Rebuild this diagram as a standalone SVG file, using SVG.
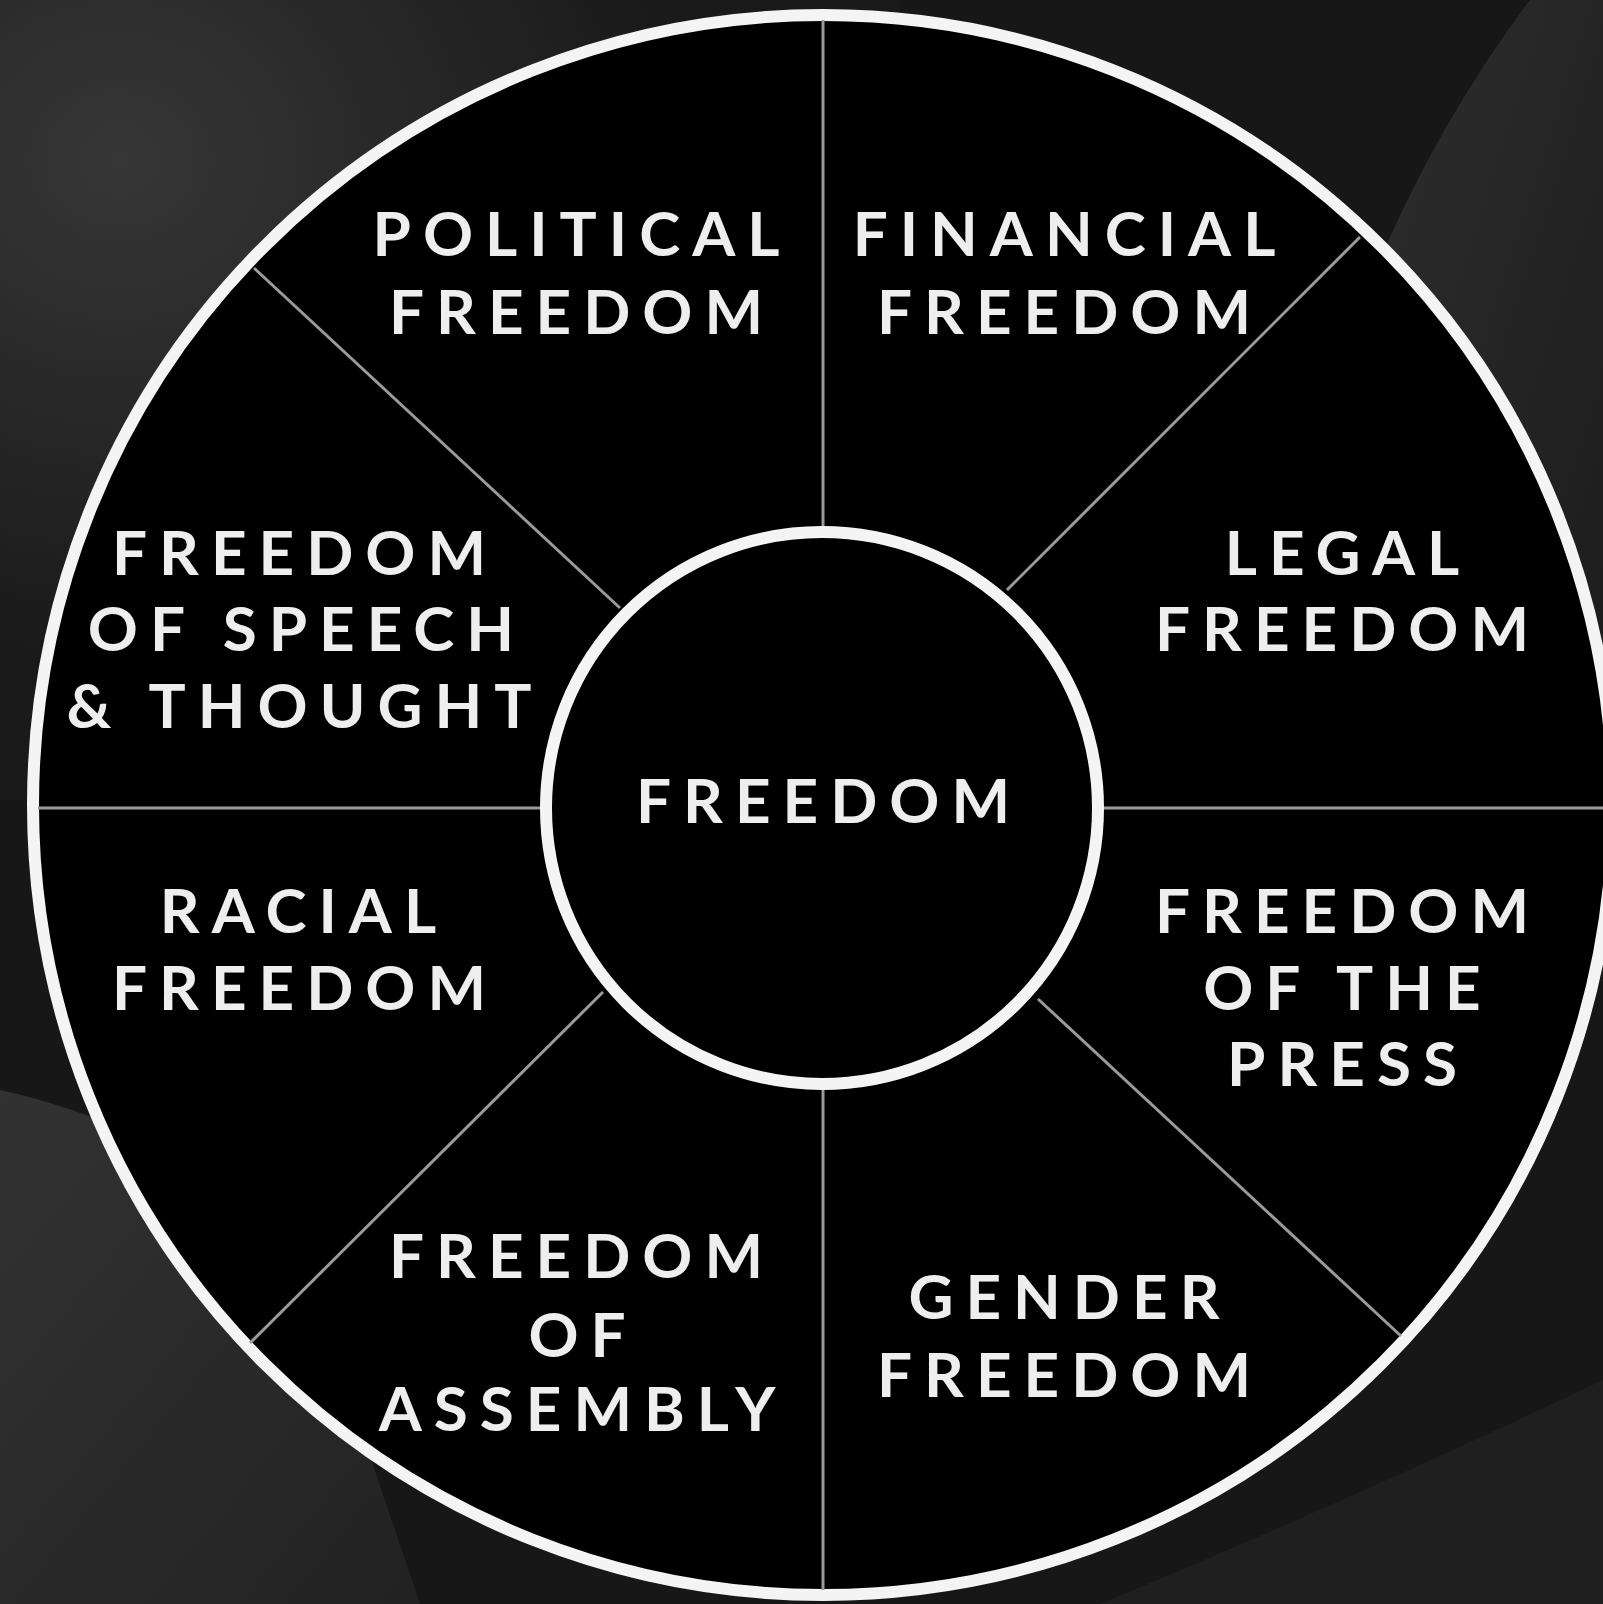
<svg xmlns="http://www.w3.org/2000/svg" width="1603" height="1604" viewBox="0 0 1603 1604">
  <defs>
    <style>
      .ring { fill: #000; stroke: #f4f4f4; stroke-width: 12; }
      .spoke { stroke: #9a9a9a; stroke-width: 3; fill: none; }
      .lbl { font-family: Lato, "Open Sans", "Liberation Sans", sans-serif; font-weight: 700; font-size: 62px; letter-spacing: 12px; fill: #eeeeee; text-anchor: middle; }
    </style>
    <radialGradient id="glowTL" cx="0" cy="0" r="1" gradientUnits="userSpaceOnUse" gradientTransform="translate(120 160) scale(560 500)">
      <stop offset="0" stop-color="#3c3c3c"/>
      <stop offset="1" stop-color="#1a1a1a"/>
    </radialGradient>
    <linearGradient id="glowR" x1="0" y1="0" x2="1" y2="1">
      <stop offset="0" stop-color="#2e2e2e"/>
      <stop offset="1" stop-color="#1c1c1c"/>
    </linearGradient>
    <linearGradient id="glowBL" x1="0" y1="0" x2="1" y2="1">
      <stop offset="0" stop-color="#323232"/>
      <stop offset="1" stop-color="#222"/>
    </linearGradient>
  </defs>

  <g id="background">
    <rect x="0" y="0" width="1603" height="1604" fill="#171717"/>
    <rect x="0" y="0" width="900" height="800" fill="url(#glowTL)" opacity="0.85"/>
    <path d="M1603 0 L1530 0 Q1440 120 1380 260 L1603 700 Z" fill="url(#glowR)"/>
    <path d="M0 1090 Q180 1130 300 1250 L420 1604 L0 1604 Z" fill="url(#glowBL)"/>
    <path d="M1100 1604 Q1350 1500 1603 1380 L1603 1604 Z" fill="#1f1f1f"/>
  </g>

  <g id="outer-ring">
    <circle class="ring" cx="823" cy="805" r="790"/>
  </g>

  <g id="connectors">
    <line class="spoke" x1="823" y1="20" x2="823" y2="528"/>
    <line class="spoke" x1="823" y1="1088" x2="823" y2="1590"/>
    <line class="spoke" x1="38" y1="808" x2="540" y2="808"/>
    <line class="spoke" x1="1104" y1="808" x2="1603" y2="808"/>
    <line class="spoke" x1="254" y1="268" x2="620" y2="608"/>
    <line class="spoke" x1="1007" y1="590" x2="1360" y2="237"/>
    <line class="spoke" x1="603" y1="992" x2="250" y2="1343"/>
    <line class="spoke" x1="1038" y1="999" x2="1401" y2="1336"/>
  </g>

  <g id="node-center">
    <circle class="ring" cx="822" cy="808" r="276"/>
    <text class="lbl" x="829" y="823">FREEDOM</text>
  </g>

  <g id="node-political">
    <text class="lbl" x="582" y="256">POLITICAL</text>
    <text class="lbl" x="582" y="334">FREEDOM</text>
  </g>

  <g id="node-financial">
    <text class="lbl" x="1070" y="256">FINANCIAL</text>
    <text class="lbl" x="1070" y="334">FREEDOM</text>
  </g>

  <g id="node-legal">
    <text class="lbl" x="1348" y="575">LEGAL</text>
    <text class="lbl" x="1348" y="651">FREEDOM</text>
  </g>

  <g id="node-speech">
    <text class="lbl" x="305" y="575">FREEDOM</text>
    <text class="lbl" x="307" y="651">OF SPEECH</text>
    <text class="lbl" x="305" y="728">&amp; THOUGHT</text>
  </g>

  <g id="node-racial">
    <text class="lbl" x="304" y="933">RACIAL</text>
    <text class="lbl" x="305" y="1010">FREEDOM</text>
  </g>

  <g id="node-press">
    <text class="lbl" x="1348" y="933">FREEDOM</text>
    <text class="lbl" x="1348" y="1010">OF THE</text>
    <text class="lbl" x="1348" y="1086">PRESS</text>
  </g>

  <g id="node-assembly">
    <text class="lbl" x="582" y="1278">FREEDOM</text>
    <text class="lbl" x="583" y="1357">OF</text>
    <text class="lbl" x="583" y="1431">ASSEMBLY</text>
  </g>

  <g id="node-gender">
    <text class="lbl" x="1070" y="1319">GENDER</text>
    <text class="lbl" x="1070" y="1397">FREEDOM</text>
  </g>
</svg>
